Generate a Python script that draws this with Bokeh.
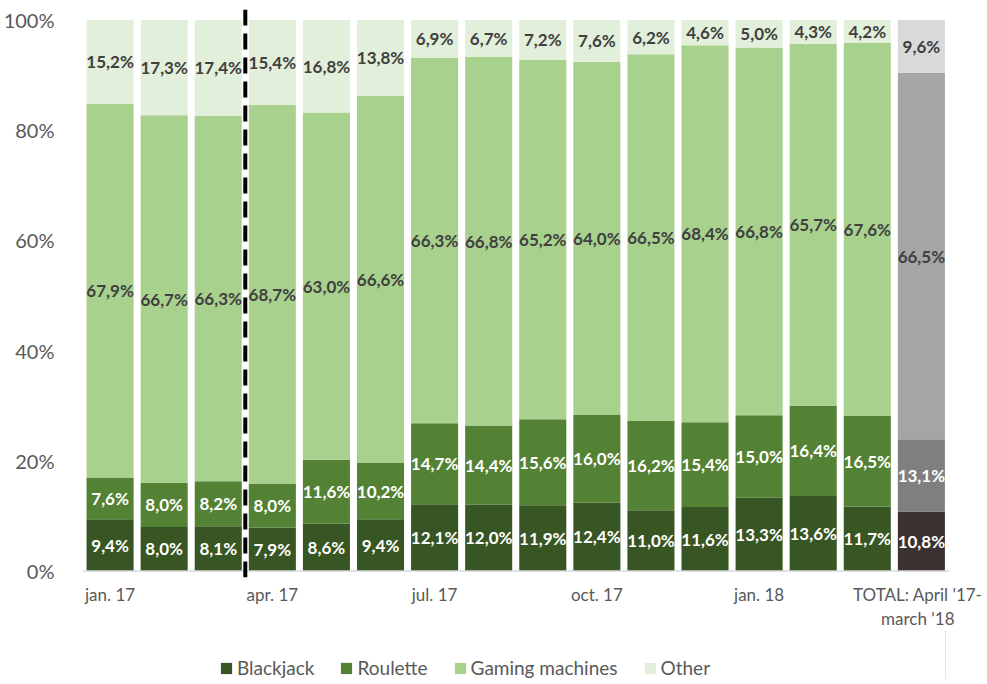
from bokeh.plotting import figure
from bokeh.layouts import column
from bokeh.models import (ColumnDataSource, Range1d, FixedTicker, Span, Legend, LegendItem)
from bokeh.embed import file_html
from bokeh.resources import INLINE
from bokeh.core.properties import value

# ---- data ----
months = ["jan. 17", "feb. 17", "mar. 17", "apr. 17", "may 17", "jun. 17", "jul. 17",
          "aug. 17", "sep. 17", "oct. 17", "nov. 17", "dec. 17", "jan. 18", "feb. 18",
          "mar. 18", "TOTAL: April '17-\nmarch '18"]
tick_idx = [0, 3, 6, 9, 12, 15]
series_names = ["Blackjack", "Roulette", "Gaming machines", "Other"]
blackjack = [9.4, 8.0, 8.1, 7.9, 8.6, 9.4, 12.1, 12.0, 11.9, 12.4, 11.0, 11.6, 13.3, 13.6, 11.7, 10.8]
roulette = [7.6, 8.0, 8.2, 8.0, 11.6, 10.2, 14.7, 14.4, 15.6, 16.0, 16.2, 15.4, 15.0, 16.4, 16.5, 13.1]
gaming = [67.9, 66.7, 66.3, 68.7, 63.0, 66.6, 66.3, 66.8, 65.2, 64.0, 66.5, 68.4, 66.8, 65.7, 67.6, 66.5]
other = [15.2, 17.3, 17.4, 15.4, 16.8, 13.8, 6.9, 6.7, 7.2, 7.6, 6.2, 4.6, 5.0, 4.3, 4.2, 9.6]
y_ticks = [0, 20, 40, 60, 80, 100]

# ---- styles ----
green_cols = ["#375623", "#548235", "#A9D18E", "#E2EFDA"]
gray_cols = ["#3B3131", "#7F7F7F", "#A5A5A5", "#D9D9D9"]
label_cols = ["white", "white", "#404040", "#404040"]
FONT = "Lato"

n = len(months)
xs = list(range(n))
all_series = [blackjack, roulette, gaming, other]
totals = [sum(s[i] for s in all_series) for i in range(n)]

p = figure(frame_width=867, frame_height=568, min_border_left=78, min_border_right=33,
           min_border_top=9, min_border_bottom=52,
           x_range=Range1d(-0.51, 15.52), y_range=Range1d(-1.18, 101.9),
           output_backend="svg", toolbar_location=None)
p.background_fill_color = "white"
p.border_fill_color = "white"
p.outline_line_color = None
p.xgrid.visible = False
p.ygrid.visible = False

bottoms = [0.0] * n
for k, s in enumerate(all_series):
    norm = [s[i] / totals[i] * 100 for i in range(n)]
    tops = [bottoms[i] + norm[i] for i in range(n)]
    colors = [gray_cols[k] if i == n - 1 else green_cols[k] for i in range(n)]
    tcols = list([label_cols[k]] * n)
    src = ColumnDataSource(dict(x=xs, bottom=bottoms, top=tops, color=colors,
                                mid=[(bottoms[i] + tops[i]) / 2 for i in range(n)],
                                lab=[f"{v:.1f}".replace(".", ",") + "%" for v in s],
                                tcol=tcols))
    p.vbar(x="x", bottom="bottom", top="top", width=0.87, fill_color="color",
           line_color=None, source=src)
    p.text(x="x", y="mid", text="lab", text_color="tcol", source=src,
           text_align="center", text_baseline="middle",
           text_font=value(FONT), text_font_style="bold", text_font_size="17px")
    bottoms = tops

# axis line at zero
p.add_layout(Span(location=0, dimension="width", line_color="#D9D9D9", line_width=1.5))
# dashed divider
p.add_layout(Span(location=2.5, dimension="height", line_color="black", line_width=4,
                  line_dash="16 8"))

# y axis
p.yaxis.ticker = FixedTicker(ticks=y_ticks)
p.yaxis.major_label_overrides = {t: f"{t}%" for t in y_ticks}
p.yaxis.axis_line_color = None
p.yaxis.major_tick_line_color = None
p.yaxis.minor_tick_line_color = None
p.yaxis.major_label_standoff = 22
p.yaxis.major_label_text_font = FONT
p.yaxis.major_label_text_font_size = "20px"
p.yaxis.major_label_text_color = "#595959"

# x axis
p.xaxis.ticker = FixedTicker(ticks=tick_idx)
p.xaxis.major_label_overrides = {i: months[i] for i in tick_idx}
p.xaxis.axis_line_color = None
p.xaxis.major_tick_line_color = None
p.xaxis.minor_tick_line_color = None
p.xaxis.major_label_standoff = 0
p.xaxis.major_label_text_font = FONT
p.xaxis.major_label_text_font_size = "17px"
p.xaxis.major_label_text_color = "#595959"
p.xaxis.major_label_text_line_height = 1.15

# ---- legend strip (its own renderers lie outside its visible range) ----
lf = figure(width=978, height=48, min_border=0, x_range=Range1d(-3, -2), y_range=Range1d(0, 1),
            x_axis_location=None, y_axis_location=None,
            output_backend="svg", toolbar_location=None)
lf.outline_line_color = None
lf.xgrid.visible = False
lf.ygrid.visible = False
items = []
for k in range(4):
    r = lf.vbar(x=xs, top=all_series[k], width=0.5, fill_color=green_cols[k], line_color=None)
    items.append(LegendItem(label=series_names[k], renderers=[r]))
legend = Legend(items=items, location=(137, 0), orientation="horizontal",
                glyph_width=14, glyph_height=14, label_standoff=4, spacing=25,
                padding=0, margin=0, border_line_color=None, background_fill_alpha=0,
                label_text_font=FONT, label_text_font_size="19px",
                label_text_color="#595959")
lf.add_layout(legend)

open("out.html", "w").write(file_html(column(p, lf, spacing=0), INLINE))
